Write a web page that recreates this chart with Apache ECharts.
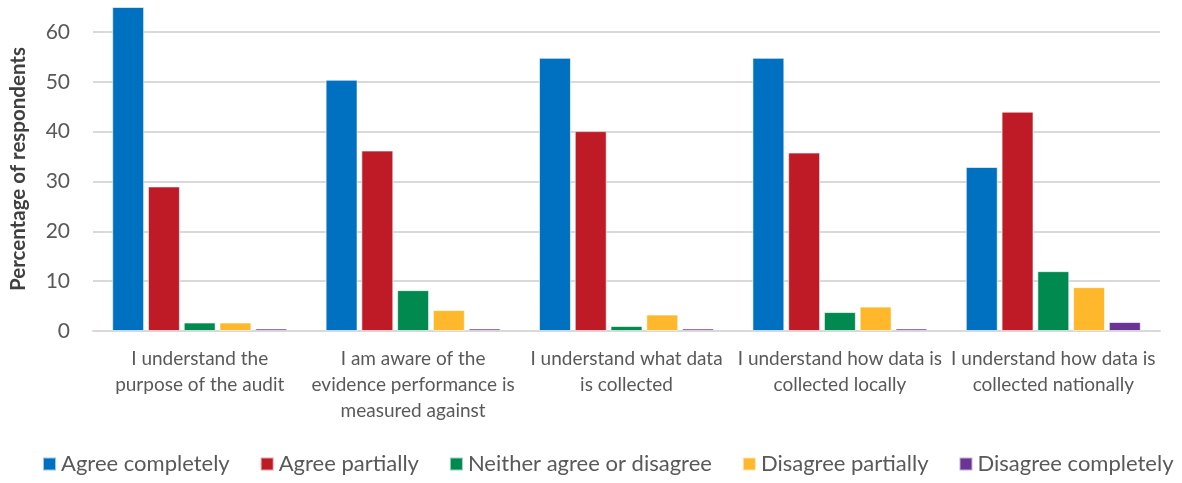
<!DOCTYPE html>
<html>
<head>
<meta charset="utf-8">
<script src="https://cdn.jsdelivr.net/npm/echarts@6/dist/echarts.min.js"></script>
<style>
  html, body { margin: 0; padding: 0; background: #fff; }
  #chart { width: 1182px; height: 483px; }
</style>
</head>
<body>
<div id="chart"></div>
<script>
// Survey statements (axis labels, wrapped as displayed)
const categories = [
  'I understand the\npurpose of the audit',
  'I am aware of the\nevidence performance is\nmeasured against',
  'I understand what data\nis collected',
  'I understand how data is\ncollected locally',
  'I understand how data is\ncollected nationally'
];

// Response options and their percentages per statement
const seriesNames = [
  'Agree completely',
  'Agree partially',
  'Neither agree or disagree',
  'Disagree partially',
  'Disagree completely'
];
const agreeCompletely    = [65.0, 50.4, 54.8, 54.8, 32.9];
const agreePartially     = [29.0, 36.2, 40.1, 35.8, 44.0];
const neither            = [1.7, 8.2, 1.0, 3.8, 12.0];
const disagreePartially  = [1.7, 4.2, 3.3, 4.9, 8.8];
const disagreeCompletely = [0.5, 0.5, 0.5, 0.5, 1.8];

const colors = ['#0070C0', '#BE1B26', '#008A50', '#FFB82B', '#6B3596'];
const values = [agreeCompletely, agreePartially, neither, disagreePartially, disagreeCompletely];

const font = 'Lato, "Open Sans", sans-serif';

const chart = echarts.init(document.getElementById('chart'), null, { renderer: 'canvas' });
chart.setOption({
  animation: false,
  color: colors,
  textStyle: { fontFamily: font },
  grid: { left: 88, right: 22, top: 7, bottom: 152, containLabel: false },
  legend: {
    bottom: 3,
    left: 37,
    icon: 'rect',
    itemWidth: 13,
    itemHeight: 13,
    itemGap: 30,
    textStyle: { fontSize: 22, color: '#595959', fontFamily: font },
    data: seriesNames
  },
  xAxis: {
    type: 'category',
    data: categories,
    axisLine: { show: true, lineStyle: { color: '#d9d9d9', width: 2 } },
    axisTick: { show: false },
    axisLabel: {
      interval: 0,
      margin: 15,
      fontSize: 19,
      lineHeight: 26,
      color: '#595959',
      fontFamily: font
    }
  },
  yAxis: {
    type: 'value',
    min: 0,
    max: 65,
    interval: 10,
    name: 'Percentage of respondents',
    nameLocation: 'middle',
    nameGap: 64,
    nameRotate: 90,
    nameTextStyle: { fontSize: 20.5, fontWeight: 'bold', color: '#404040', fontFamily: font },
    axisLine: { show: false },
    axisTick: { show: false },
    axisLabel: { fontSize: 21, color: '#595959', margin: 23, showMaxLabel: false, fontFamily: font },
    splitLine: { show: true, showMaxLine: false, lineStyle: { color: '#d9d9d9', width: 2 } }
  },
  series: seriesNames.map((name, i) => ({
    name,
    type: 'bar',
    data: values[i],
    barGap: '12%',
    barCategoryGap: '18%',
    itemStyle: { color: colors[i], borderColor: 'rgba(255,255,255,0.6)', borderWidth: 1 }
  }))
});
</script>
</body>
</html>
